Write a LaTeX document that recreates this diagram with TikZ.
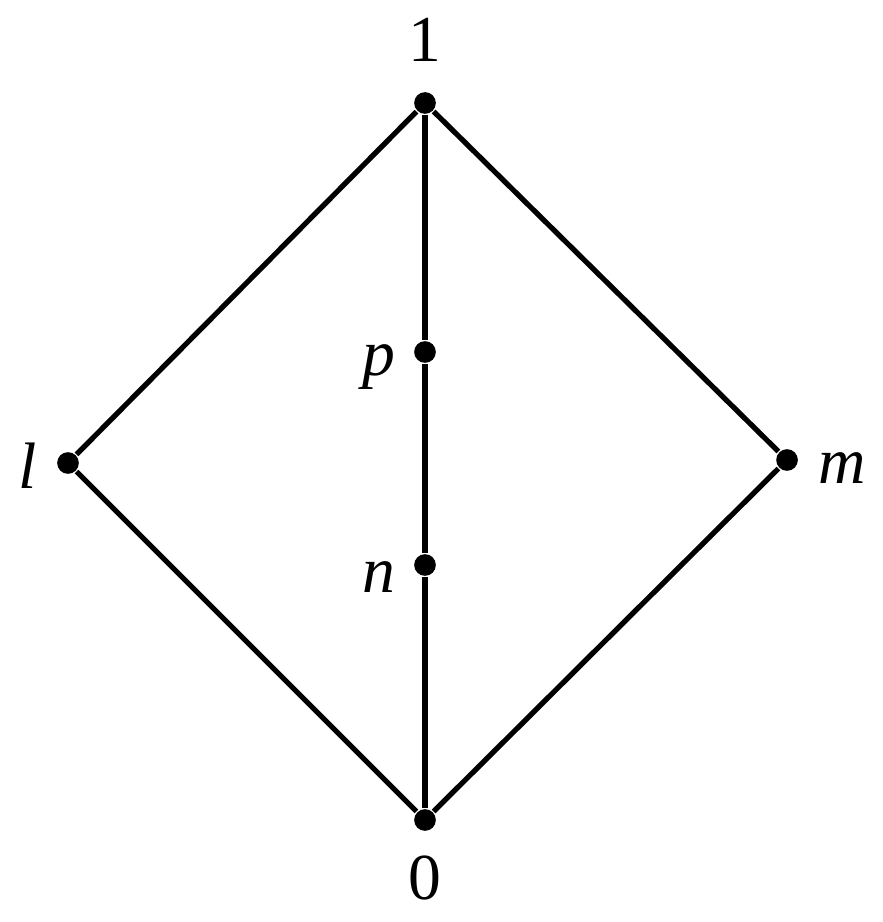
\documentclass[tikz,border=0pt]{standalone}
\usepackage{fontspec}
\setmainfont{Liberation Serif}
\usetikzlibrary{positioning}

\begin{document}
\begin{tikzpicture}[x=0.005363cm, y=-0.005363cm,
    dot/.style={circle, fill, inner sep=0pt, minimum size=3.3pt},
    edge/.style={line width=0.8pt}]
  \useasboundingbox (0,0) rectangle (882,922);

  % Elements
  \node[dot] (one) at (425,103) {};
  \node[dot] (zero) at (425,820) {};
  \node[dot] (l) at (68,463) {};
  \node[dot] (m) at (787,460) {};
  \node[dot] (p) at (425,352) {};
  \node[dot] (n) at (425,565) {};

  % Labels
  \node (onelabel) at (425,40) {1};
  \node (zerolabel) at (425,878) {0};
  \node (llabel) at (28,466) {\itshape l};
  \node (mlabel) at (842,468) {\itshape m};
  \node (plabel) at (379,367) {\itshape p};
  \node (nlabel) at (379,577) {\itshape n};

  % Covering relations
  \draw[edge] (one) -- (l) -- (zero) -- (m) -- (one);
  \draw[edge] (one) -- (p) -- (n) -- (zero);

\end{tikzpicture}
\end{document}
